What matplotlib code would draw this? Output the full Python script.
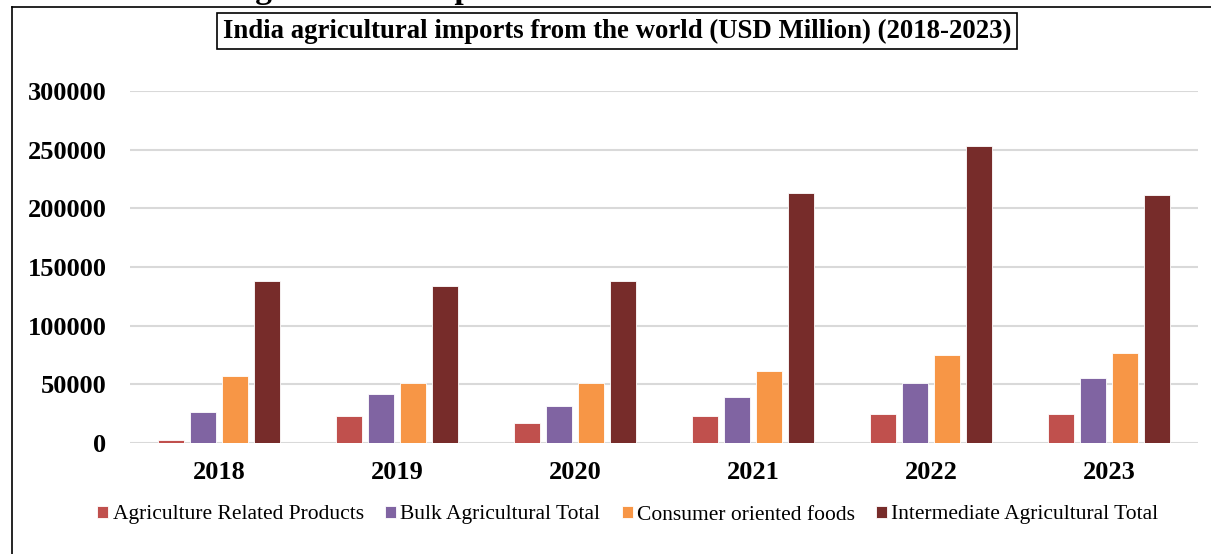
import matplotlib.pyplot as plt
import numpy as np
from matplotlib.lines import Line2D

years = ["2018", "2019", "2020", "2021", "2022", "2023"]
series = ["Agriculture Related Products", "Bulk Agricultural Total",
          "Consumer oriented foods", "Intermediate Agricultural Total"]
related = [2500, 23000, 17000, 23000, 24700, 24700]
bulk = [26400, 41700, 31500, 39200, 51100, 55600]
consumer = [57100, 51100, 51100, 61400, 75000, 76700]
intermediate = [138000, 133800, 138000, 213000, 253100, 211000]
colors = ["#C0504D", "#8064A2", "#F79646", "#772C2A"]

plt.rcParams['font.family'] = ['Liberation Serif', 'DejaVu Serif']

fig = plt.figure(figsize=(12.11, 5.54), dpi=100)
ax = fig.add_axes([130/1211, 1 - 443/554, 1068/1211, 352/554])

x = np.arange(len(years))
step = 0.18
w = 0.145
for i, (vals, name) in enumerate(zip([related, bulk, consumer, intermediate], series)):
  ax.bar(x + (i - 1.5)*step, vals, w, color=colors[i], label=name,
         edgecolor='white', linewidth=0.6, zorder=3)

ax.set_xlim(-0.5, 5.5)
ax.set_ylim(0, 300000)
ax.set_yticks(range(0, 300001, 50000))
ax.set_xticks(x)
ax.set_xticklabels(years)
ax.grid(axis='y', color='#D9D9D9', linewidth=1.5, zorder=0)
for s in ax.spines.values():
  s.set_visible(False)
ax.tick_params(length=0, labelsize=19, pad=13)
ax.tick_params(axis='y', pad=17)
for lab in ax.get_xticklabels() + ax.get_yticklabels():
  lab.set_fontweight('bold')

ax.legend(loc='center', bbox_to_anchor=(628/1211, 1 - 515/554),
          bbox_transform=fig.transFigure, ncol=4, frameon=False,
          fontsize=15.5, handlelength=0.5, handleheight=0.5,
          handletextpad=0.2, columnspacing=1.0)

fig.text(617/1211, 1 - 31/554,
         "India agricultural imports from the world (USD Million) (2018-2023)",
         ha='center', va='center', fontsize=19.3, fontweight='bold',
         bbox=dict(boxstyle='square,pad=0.22', facecolor='white',
                   edgecolor='black', linewidth=1.2))

# caption above the chart, cut off by the page edge
fig.text(2/1211, 1 + 2/554,
         "Chart 1: India's agricultural imports from the world 2018-2023",
         ha='left', va='baseline', fontsize=24, fontweight='bold')

# outer chart frame
fig.add_artist(Line2D([12/1211, 12/1211], [0, 1 - 7/554], color='black', linewidth=1.2))
fig.add_artist(Line2D([12/1211, 1], [1 - 7/554, 1 - 7/554], color='black', linewidth=1.2))

fig.savefig("out.png", dpi=100)
